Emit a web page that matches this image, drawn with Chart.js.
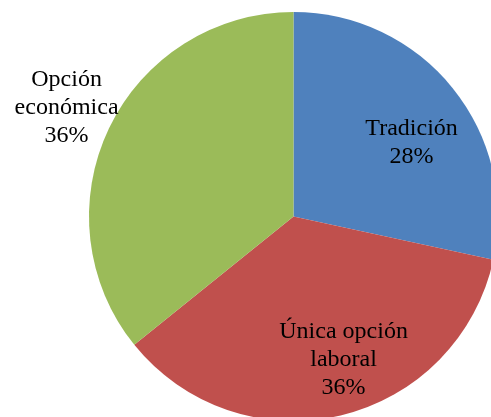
<!DOCTYPE html>
<html>
<head>
<meta charset="utf-8">
<script src="https://cdn.jsdelivr.net/npm/chart.js@4/dist/chart.umd.min.js"></script>
<style>
  html, body { margin: 0; padding: 0; background: #fff; }
  #wrap { width: 491px; height: 417px; overflow: hidden; position: relative; }
  #chart { position: absolute; left: 0; top: 0; }
</style>
</head>
<body>
<div id="wrap"><canvas id="chart" width="510" height="440"></canvas></div>
<script>
// Données du graphique
const categories = ['Tradición', 'Única opción laboral', 'Opción económica'];
const labelLines = [['Tradición'], ['Única opción', 'laboral'], ['Opción', 'económica']];
const values = [28.4, 35.8, 35.8];
const colors = ['#4F81BD', '#C0504D', '#9BBB59'];

// Placement des étiquettes (rayon relatif + décalage d'angle en degrés)
const labelRadius = [0.68, 0.74, 1.23];
const labelAngleShift = [7, -6, 0];

const total = values.reduce((a, b) => a + b, 0);

const pieLabels = {
    id: 'pieLabels',
    afterDatasetsDraw(chart) {
        const ctx = chart.ctx;
        const meta = chart.getDatasetMeta(0);
        ctx.save();
        ctx.font = '24px "Liberation Serif", "Times New Roman", serif';
        ctx.fillStyle = '#000';
        ctx.textAlign = 'center';
        ctx.textBaseline = 'middle';
        meta.data.forEach(function (arc, i) {
            const p = arc.getProps(['x', 'y', 'startAngle', 'endAngle', 'outerRadius'], true);
            const mid = (p.startAngle + p.endAngle) / 2 + labelAngleShift[i] * Math.PI / 180;
            const r = p.outerRadius * labelRadius[i];
            const cx = p.x + Math.cos(mid) * r;
            const cy = p.y + Math.sin(mid) * r;
            const lines = labelLines[i].concat([Math.round(values[i] / total * 100) + '%']);
            const lh = 28;
            const y0 = cy - (lines.length - 1) * lh / 2;
            lines.forEach(function (t, k) {
                ctx.fillText(t, cx, y0 + k * lh);
            });
        });
        ctx.restore();
    }
};

new Chart(document.getElementById('chart').getContext('2d'), {
    type: 'pie',
    data: {
        labels: categories,
        datasets: [{
            data: values,
            backgroundColor: colors,
            borderWidth: 0
        }]
    },
    options: {
        responsive: false,
        animation: false,
        layout: { padding: { left: 89, top: 12, right: 12, bottom: 19 } },
        plugins: {
            legend: { display: false },
            tooltip: { enabled: false }
        }
    },
    plugins: [pieLabels]
});
</script>
</body>
</html>
